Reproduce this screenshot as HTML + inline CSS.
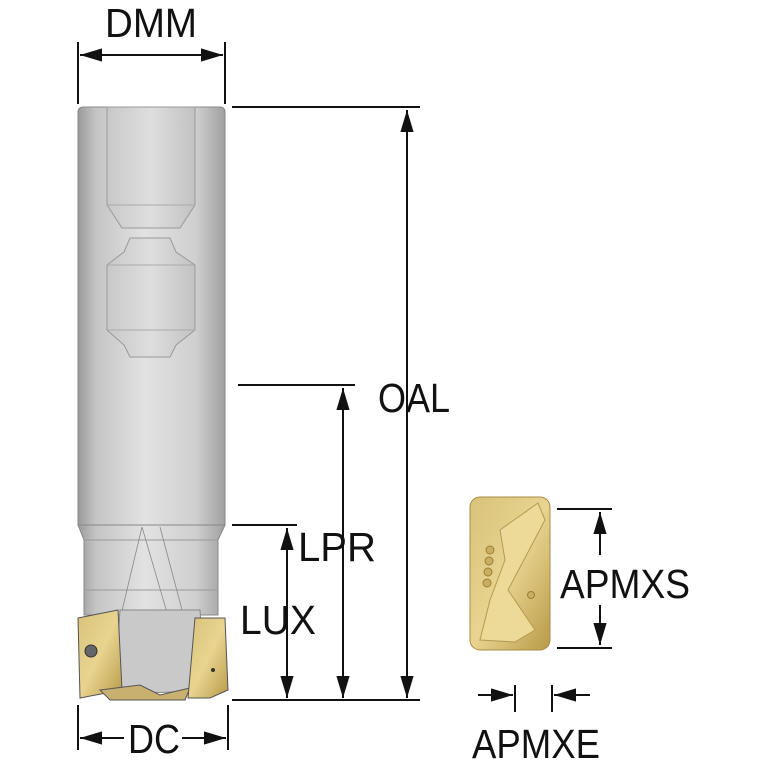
<!DOCTYPE html>
<html><head><meta charset="utf-8"><style>html,body{margin:0;padding:0;background:#fff}svg{display:block}</style></head><body>
<svg width="767" height="767" viewBox="0 0 767 767" xmlns="http://www.w3.org/2000/svg">
<defs>
<linearGradient id="sh" x1="0" x2="1" y1="0" y2="0">
<stop offset="0" stop-color="#9a9a9a"/><stop offset="0.12" stop-color="#c4c4c4"/><stop offset="0.45" stop-color="#e2e2e2"/><stop offset="0.8" stop-color="#cfcfcf"/><stop offset="1" stop-color="#a0a0a0"/>
</linearGradient>
<linearGradient id="fl" x1="0" x2="1"><stop offset="0" stop-color="#c8c8c8"/><stop offset="0.5" stop-color="#dedede"/><stop offset="1" stop-color="#c2c2c2"/></linearGradient>
<linearGradient id="gold" x1="0" x2="1" y1="0" y2="1"><stop offset="0" stop-color="#d8c27a"/><stop offset="0.5" stop-color="#e8d490"/><stop offset="1" stop-color="#b89a48"/></linearGradient>
<marker id="b" viewBox="0 0 20 12" refX="20" refY="6" markerWidth="22" markerHeight="14" markerUnits="userSpaceOnUse" orient="auto-start-reverse"><path d="M0,0L20,6L0,12z" fill="#111"/></marker>
</defs>
<path d="M78,112 Q78,107 84,107 L219,107 Q225,107 225,112 L225,525 L78,525 Z" fill="url(#sh)" stroke="#888" stroke-width="1"/>
<path d="M107,107 L195,107 L195,205 L180,228 L122,228 L107,205 Z" fill="url(#fl)" stroke="#999"/>
<line x1="107" y1="205" x2="195" y2="205" stroke="#aaa"/>
<path d="M130,238 L170,238 L176,252 L195,265 L195,330 L176,345 L170,357 L130,357 L124,345 L107,330 L107,265 L124,252 Z" fill="url(#fl)" stroke="#999"/>
<line x1="107" y1="265" x2="195" y2="265" stroke="#aaa"/><line x1="107" y1="330" x2="195" y2="330" stroke="#aaa"/>
<path d="M78,525 L225,525 L218,540 L218,615 L84,615 L84,540 Z" fill="url(#sh)" stroke="#888"/>
<line x1="84" y1="540" x2="218" y2="540" stroke="#999"/><line x1="84" y1="590" x2="218" y2="590" stroke="#999"/>
<path d="M142,527 L115,640 M142,527 L175,640 M160,527 L190,640" stroke="#888" fill="none" stroke-width="0.8"/>
<path d="M120,610 L200,610 L205,685 Q160,700 115,685 Z" fill="#c9c9c9" stroke="#888"/>
<path d="M78,618 L118,610 L122,690 L80,698 Z" fill="url(#gold)" stroke="#555"/>
<circle cx="91" cy="651" r="6" fill="#666" stroke="#333"/>
<path d="M100,690 L140,685 L160,695 L190,688 L185,700 L110,700 Z" fill="#c8b070" stroke="#555"/>
<path d="M195,618 L225,618 L228,690 L210,698 L188,698 Z" fill="url(#gold)" stroke="#555"/>
<circle cx="213" cy="670" r="2" fill="#333"/>
<rect x="470" y="497" width="80" height="153" rx="10" fill="url(#gold)" stroke="#a88c40"/>
<path d="M500,530 L538,503 L545,520 L508,590 L535,630 L515,642 L480,640 L490,600 L505,560 Z" fill="#edda98" stroke="#b49a50"/>
<g fill="#c9ad60" stroke="#9a7f35"><circle cx="490" cy="550" r="4"/><circle cx="489" cy="561" r="4"/><circle cx="488" cy="572" r="4"/><circle cx="487" cy="583" r="4"/><circle cx="531" cy="595" r="3.5"/></g>
<g stroke="#111" stroke-width="2" fill="none">
<line x1="78" y1="42" x2="78" y2="104"/><line x1="225" y1="42" x2="225" y2="104"/>
<line x1="80" y1="55" x2="223" y2="55" marker-start="url(#b)" marker-end="url(#b)"/>
<line x1="232" y1="107" x2="420" y2="107"/>
<line x1="407" y1="110" x2="407" y2="698" marker-start="url(#b)" marker-end="url(#b)"/>
<line x1="238" y1="385" x2="355" y2="385"/>
<line x1="343" y1="388" x2="343" y2="698" marker-start="url(#b)" marker-end="url(#b)"/>
<line x1="232" y1="525" x2="297" y2="525"/>
<line x1="287" y1="528" x2="287" y2="698" marker-start="url(#b)" marker-end="url(#b)"/>
<line x1="232" y1="700" x2="420" y2="700"/>
<line x1="78" y1="705" x2="78" y2="750"/><line x1="228" y1="705" x2="228" y2="750"/>
<line x1="80" y1="738" x2="124" y2="738" marker-start="url(#b)"/>
<line x1="182" y1="738" x2="226" y2="738" marker-end="url(#b)"/>
<line x1="557" y1="509" x2="612" y2="509"/><line x1="557" y1="648" x2="612" y2="648"/>
<line x1="600" y1="512" x2="600" y2="555" marker-start="url(#b)"/>
<line x1="600" y1="605" x2="600" y2="645" marker-end="url(#b)"/>
<line x1="515" y1="685" x2="515" y2="712"/><line x1="552" y1="685" x2="552" y2="712"/>
<line x1="478" y1="695" x2="513" y2="695" marker-end="url(#b)"/>
<line x1="590" y1="695" x2="554" y2="695" marker-end="url(#b)"/>
</g>
<g font-family="'Liberation Sans Narrow','Liberation Sans',sans-serif" font-size="41" fill="#111">
<text x="105" y="37" textLength="92" lengthAdjust="spacingAndGlyphs">DMM</text>
<text x="378" y="412" textLength="72" lengthAdjust="spacingAndGlyphs">OAL</text>
<text x="298" y="561" textLength="78" lengthAdjust="spacingAndGlyphs">LPR</text>
<text x="240" y="634" textLength="76" lengthAdjust="spacingAndGlyphs">LUX</text>
<text x="128" y="753" textLength="52" lengthAdjust="spacingAndGlyphs">DC</text>
<text x="560" y="598" textLength="130" lengthAdjust="spacingAndGlyphs">APMXS</text>
<text x="472" y="758" textLength="128" lengthAdjust="spacingAndGlyphs">APMXE</text>
</g>
</svg>
</body></html>
